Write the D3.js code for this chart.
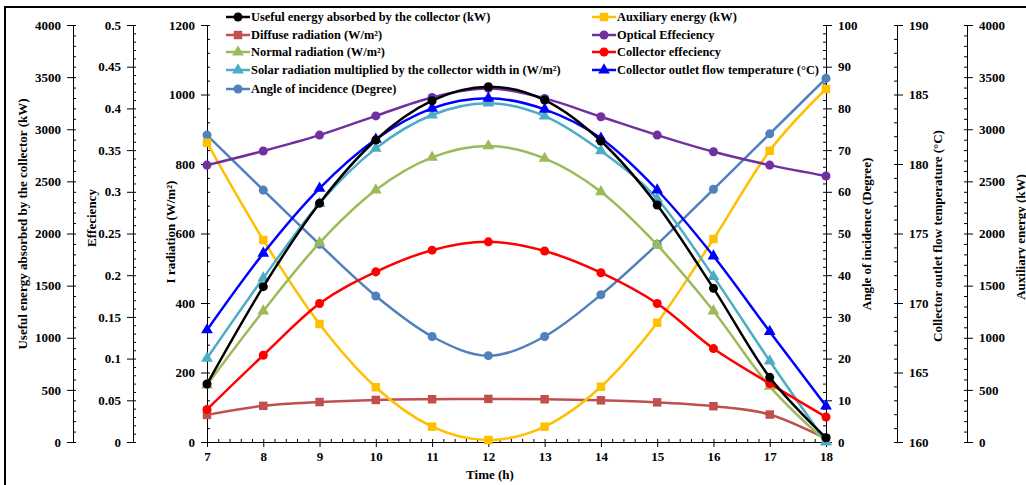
<!DOCTYPE html>
<html><head><meta charset="utf-8">
<script src="https://cdn.jsdelivr.net/npm/d3@7"></script>
<style>
body{margin:0;background:#fff}
text{font-family:"Liberation Serif","Times New Roman",serif;font-weight:bold;fill:#000}
</style>
</head><body>
<svg id="c" width="1026" height="485"></svg>
<script>
// ---------------- data ----------------
const hours = [7,8,9,10,11,12,13,14,15,16,17,18];
const usefulEnergy   = [556,1490,2290,2897,3274,3408,3280,2887,2273,1474,620,41];      // kW
const diffuseRad     = [78,104,115,121,123,124,123,120,114,103,79,10];                 // W/m2
const normalRad      = [164,377,573,725,819,852,816,720,567,377,160,2];                // W/m2
const solarRadWidth  = [241,472,687,845,941,975,938,838,700,476,233,0];                // W/m2
const angleIncidence = [73.6,60.4,47.4,35.0,25.3,20.7,25.3,35.3,47.4,60.6,73.9,87.2];  // degree
const auxEnergy      = [2871,1938,1132,525,147,19,147,530,1144,1947,2794,3386];        // kW
const opticalEff     = [0.332,0.349,0.368,0.391,0.413,0.424,0.412,0.390,0.368,0.348,0.332,0.319];
const collectorEff   = [0.039,0.104,0.166,0.204,0.230,0.240,0.229,0.203,0.166,0.112,0.070,0.030];
const outletTemp     = [168.06,173.57,178.25,181.78,184.0,184.73,183.93,181.85,178.13,173.38,167.94,162.59];

const xTicks = [7,8,9,10,11,12,13,14,15,16,17,18];
const irrTicks = [0,200,400,600,800,1000,1200];
const energyTicks = [0,500,1000,1500,2000,2500,3000,3500,4000];
const effTicks = [0,0.05,0.1,0.15,0.2,0.25,0.3,0.35,0.4,0.45,0.5];
const angleTicks = [0,10,20,30,40,50,60,70,80,90,100];
const tempTicks = [160,165,170,175,180,185,190];

// ---------------- layout ----------------
const svg = d3.select("#c");
const X0 = 207, X1 = 826, Y0 = 442, Y1 = 25;
const x = d3.scaleLinear().domain([7,18]).range([X0,X1]);
const yIrr = d3.scaleLinear().domain([0,1200]).range([Y0,Y1]);
const yUse = d3.scaleLinear().domain([0,4000]).range([Y0,Y1]);
const yEff = d3.scaleLinear().domain([0,0.5]).range([Y0,Y1]);
const yAng = d3.scaleLinear().domain([0,100]).range([Y0,Y1]);
const yTmp = d3.scaleLinear().domain([160,190]).range([Y0,Y1]);
const yAux = d3.scaleLinear().domain([0,4000]).range([Y0,Y1]);

// frame
svg.append("rect").attr("x",5).attr("y",7).attr("width",1040).attr("height",500)
  .attr("fill","none").attr("stroke","#000").attr("stroke-width",2);

const fmt = d => String(d);

function vAxis(xpos, scale, ticks, minorStep, side){
  const g = svg.append("g").attr("transform",`translate(${xpos},0)`);
  const [d0,d1] = scale.domain();
  const minors = d3.range(d0, d1 + minorStep/2, minorStep).map(v=>+v.toFixed(6));
  const major = side==="left" ? d3.axisLeft(scale) : d3.axisRight(scale);
  const minor = side==="left" ? d3.axisRight(scale) : d3.axisLeft(scale);
  g.append("g").call(minor.tickValues(minors).tickSize(3).tickFormat(""))
    .call(s=>s.select(".domain").remove());
  g.append("g").call(major.tickValues(ticks).tickSize(6).tickPadding(6).tickFormat(fmt).tickSizeOuter(0))
    .call(s=>s.selectAll("text").style("font-size","13px"));
  g.selectAll("line,path").attr("stroke","#000").attr("stroke-width",1);
  g.selectAll(".domain").attr("stroke","#000");
  return g;
}

vAxis(73, yUse, energyTicks, 100, "left");
vAxis(133, yEff, effTicks, 0.01, "left");
vAxis(X0, yIrr, irrTicks, 40, "left");
vAxis(X1, yAng, angleTicks, 2, "right");
vAxis(897, yTmp, tempTicks, 1, "right");
vAxis(967, yAux, energyTicks, 100, "right");

// x axis
const gx = svg.append("g").attr("transform",`translate(0,${Y0})`);
gx.append("g").call(d3.axisTop(x).tickValues(d3.range(7,18.1,0.2)).tickSize(3).tickFormat(""))
  .call(s=>s.select(".domain").remove());
gx.append("g").call(d3.axisBottom(x).tickValues(xTicks).tickSize(5).tickPadding(5).tickSizeOuter(0).tickFormat(fmt))
  .call(s=>s.selectAll("text").style("font-size","13px"));
gx.selectAll("line,path").attr("stroke","#000");

// axis titles
function vTitle(cx, cy, txt){
  svg.append("text").attr("transform",`translate(${cx},${cy}) rotate(-90)`)
    .attr("text-anchor","middle").attr("dominant-baseline","central")
    .style("font-size","13px").text(txt);
}
vTitle(22, 224, "Useful energy absorbed by the collector (kW)");
vTitle(91, 218, "Effeciency");
vTitle(170, 232, "I radiation (W/m²)");
vTitle(866, 234, "Angle of incidence (Degree)");
vTitle(937, 236, "Collector outlet flow temperature (°C)");
vTitle(1020, 237, "Auxiliary energy (kW)");
svg.append("text").attr("x",490).attr("y",479).attr("text-anchor","middle")
  .style("font-size","13px").text("Time (h)");

// ---------------- series ----------------
const curve = d3.curveCardinal.tension(0);
const sym = {
  circle: d3.symbol().type(d3.symbolCircle).size(64),
  square: d3.symbol().type(d3.symbolSquare).size(72),
  triangle: d3.symbol().type(d3.symbolTriangle).size(60)
};
const series = [
  {name:"Useful energy absorbed by the collector (kW)", vals:usefulEnergy, y:yUse, color:"#000000", m:"circle", order:9},
  {name:"Diffuse radiation (W/m²)", vals:diffuseRad, y:yIrr, color:"#c0504d", m:"square", order:2},
  {name:"Normal radiation (W/m²)", vals:normalRad, y:yIrr, color:"#9bbb59", m:"triangle", order:4},
  {name:"Solar radiation multiplied by the collector width in (W/m²)", vals:solarRadWidth, y:yIrr, color:"#4bacc6", m:"triangle", order:5},
  {name:"Angle of incidence (Degree)", vals:angleIncidence, y:yAng, color:"#4f81bd", m:"circle", order:1},
  {name:"Auxiliary energy (kW)", vals:auxEnergy, y:yAux, color:"#ffc000", m:"square", order:3},
  {name:"Optical Effeciency", vals:opticalEff, y:yEff, color:"#7030a0", m:"circle", order:6},
  {name:"Collector effeciency", vals:collectorEff, y:yEff, color:"#ff0000", m:"circle", order:7},
  {name:"Collector outlet flow temperature (°C)", vals:outletTemp, y:yTmp, color:"#0000ff", m:"triangle", order:8}
];

const plot = svg.append("g");
series.slice().sort((a,b)=>a.order-b.order).forEach(s=>{
  const pts = hours.map((h,i)=>[x(h), s.y(s.vals[i])]);
  plot.append("path").attr("d", d3.line().curve(curve)(pts))
    .attr("fill","none").attr("stroke",s.color).attr("stroke-width",2.5);
  plot.selectAll(null).data(pts).enter().append("path")
    .attr("d", sym[s.m]).attr("transform",d=>`translate(${d[0]},${d[1]})`)
    .attr("fill",s.color);
});

// ---------------- legend ----------------
const legCols = [{x:226, rows:[0,1,2,3,4]}, {x:592, rows:[5,6,7,8]}];
const rowY = [17,35,52,70,89];
legCols.forEach(col=>{
  col.rows.forEach((si,r)=>{
    const s = series[si];
    const g = svg.append("g").attr("transform",`translate(${col.x},${rowY[r]})`);
    g.append("line").attr("x1",0).attr("x2",24).attr("y1",0).attr("y2",0)
      .attr("stroke",s.color).attr("stroke-width",2.5);
    g.append("path").attr("d",sym[s.m]).attr("transform","translate(12,0)").attr("fill",s.color);
    g.append("text").attr("x",25).attr("y",0).attr("dominant-baseline","central")
      .style("font-size","12.4px").text(s.name);
  });
});
</script>
</body></html>
